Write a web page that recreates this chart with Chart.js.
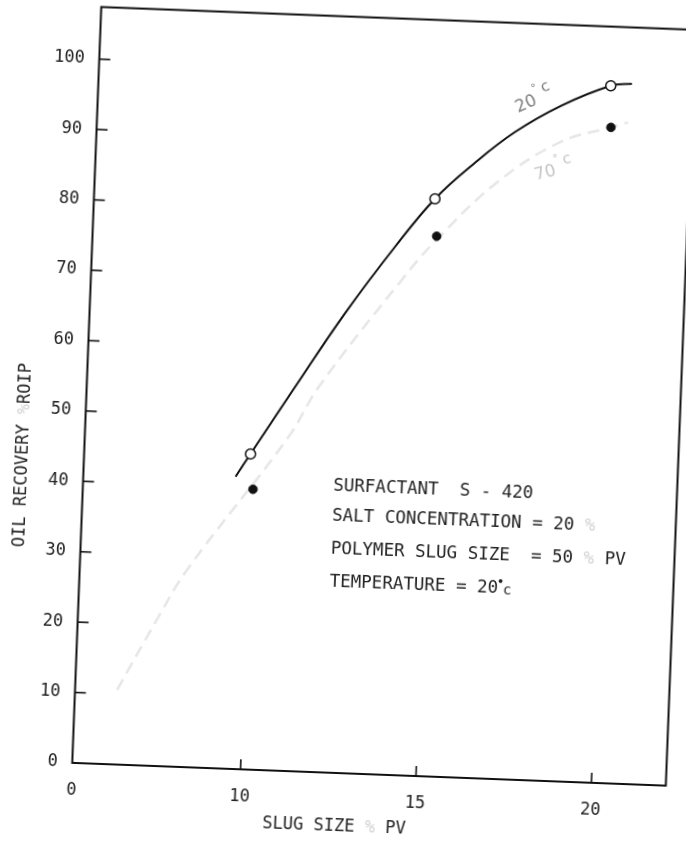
<!DOCTYPE html>
<html>
<head>
<meta charset="utf-8">
<script src="https://cdn.jsdelivr.net/npm/chart.js@4/dist/chart.umd.min.js"></script>
<style>
  html, body { margin: 0; padding: 0; background: #fff; overflow: hidden; width: 686px; height: 845px; }
  #wrap { position: absolute; left: 0; top: 0; width: 686px; height: 845px;
          transform: rotate(2.2deg); transform-origin: 343px 422.5px; }
  canvas { display: block; }
</style>
</head>
<body>
<div id="wrap"><canvas id="c" width="686" height="845"></canvas></div>
<script>
// ---- tick labels ----
const xTickValues = [10, 15, 20];
const xOriginLabel = '0';
const yTickValues = [0, 10, 20, 30, 40, 50, 60, 70, 80, 90, 100];

// ---- measured points ----
// 20 °C (open circles)
const pts20X = [9.94, 14.91, 19.79];
const pts20Y = [44.8, 82.0, 99.0];
// 70 °C (filled dots)
const pts70X = [10.05, 15.0, 19.84];
const pts70Y = [39.8, 76.7, 93.1];

// ---- hand-drawn curves ----
const curve20X = [9.54, 9.94, 11.14, 12.48, 13.83, 14.91, 16.0, 17.11, 18.40, 19.79, 20.39];
const curve20Y = [41.5, 44.8, 54.6, 65.3, 75.0, 82.0, 87.3, 91.9, 95.9, 99.0, 99.4];
const curve70X = [6.40, 7.46, 8.26, 11.0, 11.81, 14.05, 15.0, 16.69, 18.44, 19.84, 20.32];
const curve70Y = [10.6, 20.8, 28.0, 47.4, 54.7, 70.3, 76.2, 84.8, 90.8, 93.1, 93.9];

// ---- texts ----
const xTitle = 'SLUG SIZE % PV';
const yTitle = 'OIL RECOVERY %ROIP';
const noteLines = ['SURFACTANT  S - 420', 'SALT CONCENTRATION = 20 %', 'POLYMER SLUG SIZE  = 50 % PV', 'TEMPERATURE = 20'];
const label20 = '20';
const label70 = '70';

const X_MIN = 5.205, X_MAX = 22.12, Y_MIN = 0, Y_MAX = 107.4;
const MONO = "'DejaVu Sans Mono', monospace";
const INK = '#222';
const FAINT = '#d2d2d2';

const zip = (xs, ys) => xs.map((x, i) => ({ x, y: ys[i] }));

function monoText(ctx, str, x0, yc, faintSet) {
  const pitch = ctx.measureText('M').width;
  for (let i = 0; i < str.length; i++) {
    const ch = str[i];
    if (ch === ' ') continue;
    ctx.fillStyle = faintSet.includes(ch) ? FAINT : INK;
    ctx.fillText(ch, x0 + i * pitch, yc);
  }
  return pitch * str.length;
}

const decor = {
  id: 'decor',
  afterDraw(chart) {
    const { ctx, chartArea: a, scales: { x, y } } = chart;
    ctx.save();
    // frame
    ctx.strokeStyle = '#111';
    ctx.lineWidth = 2;
    ctx.strokeRect(a.left, a.top, a.right - a.left, a.bottom - a.top);
    // inward tick marks
    ctx.lineWidth = 1.6;
    y.ticks.forEach(t => {
      if (t.value === 0) return;
      const py = y.getPixelForValue(t.value);
      ctx.beginPath(); ctx.moveTo(a.left, py); ctx.lineTo(a.left + 11, py); ctx.stroke();
    });
    x.ticks.forEach(t => {
      if (t.value <= X_MIN) return;
      const px = x.getPixelForValue(t.value);
      ctx.beginPath(); ctx.moveTo(px, a.bottom); ctx.lineTo(px, a.bottom - 10); ctx.stroke();
    });

    ctx.textBaseline = 'middle';
    ctx.textAlign = 'left';
    // axis titles
    ctx.font = '17px ' + MONO;
    let pitch = ctx.measureText('M').width;
    monoText(ctx, xTitle, (a.left + a.right) / 2 - 33 - pitch * xTitle.length / 2, a.bottom + 54, '%');
    ctx.save();
    ctx.translate(a.left - 61, y.getPixelForValue(43.4));
    ctx.rotate(-Math.PI / 2);
    monoText(ctx, yTitle, -pitch * yTitle.length / 2, 0, '%');
    ctx.restore();

    // note block
    ctx.font = '17.5px ' + MONO;
    const nx = x.getPixelForValue(12.33);
    const ny = [40.75, 36.4, 31.7, 27.1];
    noteLines.forEach((s, i) => {
      const w = monoText(ctx, s, nx, y.getPixelForValue(ny[i]), '%');
      if (i === 3) {
        ctx.fillStyle = INK;
        ctx.font = 'bold 11px ' + MONO;
        ctx.fillText('\u2022', nx + w - 1, y.getPixelForValue(ny[i]) - 6);
        ctx.font = '14px ' + MONO;
        ctx.fillText('c', nx + w + 5, y.getPixelForValue(ny[i]) + 2);
        ctx.font = '17.5px ' + MONO;
      }
    });

    // curve labels (hand-written)
    const hand = (txt, dx, dy, ang, color) => {
      ctx.save();
      ctx.translate(x.getPixelForValue(dx), y.getPixelForValue(dy));
      ctx.rotate(ang * Math.PI / 180);
      ctx.fillStyle = color;
      ctx.font = '17px "DejaVu Sans"';
      ctx.fillText(txt, -22, 3);
      ctx.font = '11px "DejaVu Sans"';
      ctx.fillText('\u00b0', 0, -8);
      ctx.font = '15px "DejaVu Sans"';
      ctx.fillText('c', 9, -5);
      ctx.restore();
    };
    hand(label20, 17.65, 97.0, -26, '#7d7d7d');
    hand(label70, 18.3, 87.1, -17, '#c4c4c4');
    ctx.restore();
  }
};

new Chart(document.getElementById('c'), {
  type: 'scatter',
  data: {
    datasets: [
      { label: '20 °C points', data: zip(pts20X, pts20Y), order: 0,
        pointRadius: 5, pointBackgroundColor: '#fff', pointBorderColor: '#111', pointBorderWidth: 1.5, showLine: false },
      { label: '70 °C points', data: zip(pts70X, pts70Y), order: 1,
        pointRadius: 4.3, pointBackgroundColor: '#111', pointBorderColor: '#111', pointBorderWidth: 1, showLine: false },
      { label: '20 °C', data: zip(curve20X, curve20Y), order: 2, showLine: true, pointRadius: 0,
        borderColor: '#111', borderWidth: 2, tension: 0.4, fill: false },
      { label: '70 °C', data: zip(curve70X, curve70Y), order: 3, showLine: true, pointRadius: 0,
        borderColor: '#e6e6e6', borderWidth: 2.5, borderDash: [12, 7], tension: 0.4, fill: false }
    ]
  },
  options: {
    responsive: false,
    animation: false,
    devicePixelRatio: 1,
    layout: { padding: { top: 16.6, right: 6, left: 0, bottom: 0 } },
    plugins: { legend: { display: false }, tooltip: { enabled: false } },
    scales: {
      x: {
        type: 'linear', min: X_MIN, max: X_MAX,
        grid: { display: false, drawTicks: false }, border: { display: false },
        afterBuildTicks(s) { s.ticks = [X_MIN, ...xTickValues].map(v => ({ value: v })); },
        afterFit(s) { s.height = 72; s.paddingLeft = 0; s.paddingRight = 0; },
        ticks: { autoSkip: false, maxRotation: 0, padding: 17, color: INK,
                 font: { family: MONO, size: 17 },
                 callback: v => (v === X_MIN ? xOriginLabel : String(v)) }
      },
      y: {
        type: 'linear', min: Y_MIN, max: Y_MAX,
        grid: { display: false, drawTicks: false }, border: { display: false },
        afterBuildTicks(s) { s.ticks = yTickValues.map(v => ({ value: v })); },
        afterFit(s) { s.width = 85.5; s.paddingTop = 0; s.paddingBottom = 0; },
        ticks: { autoSkip: false, padding: 14.5, color: INK, font: { family: MONO, size: 17 } }
      }
    }
  },
  plugins: [decor]
});
</script>
</body>
</html>
